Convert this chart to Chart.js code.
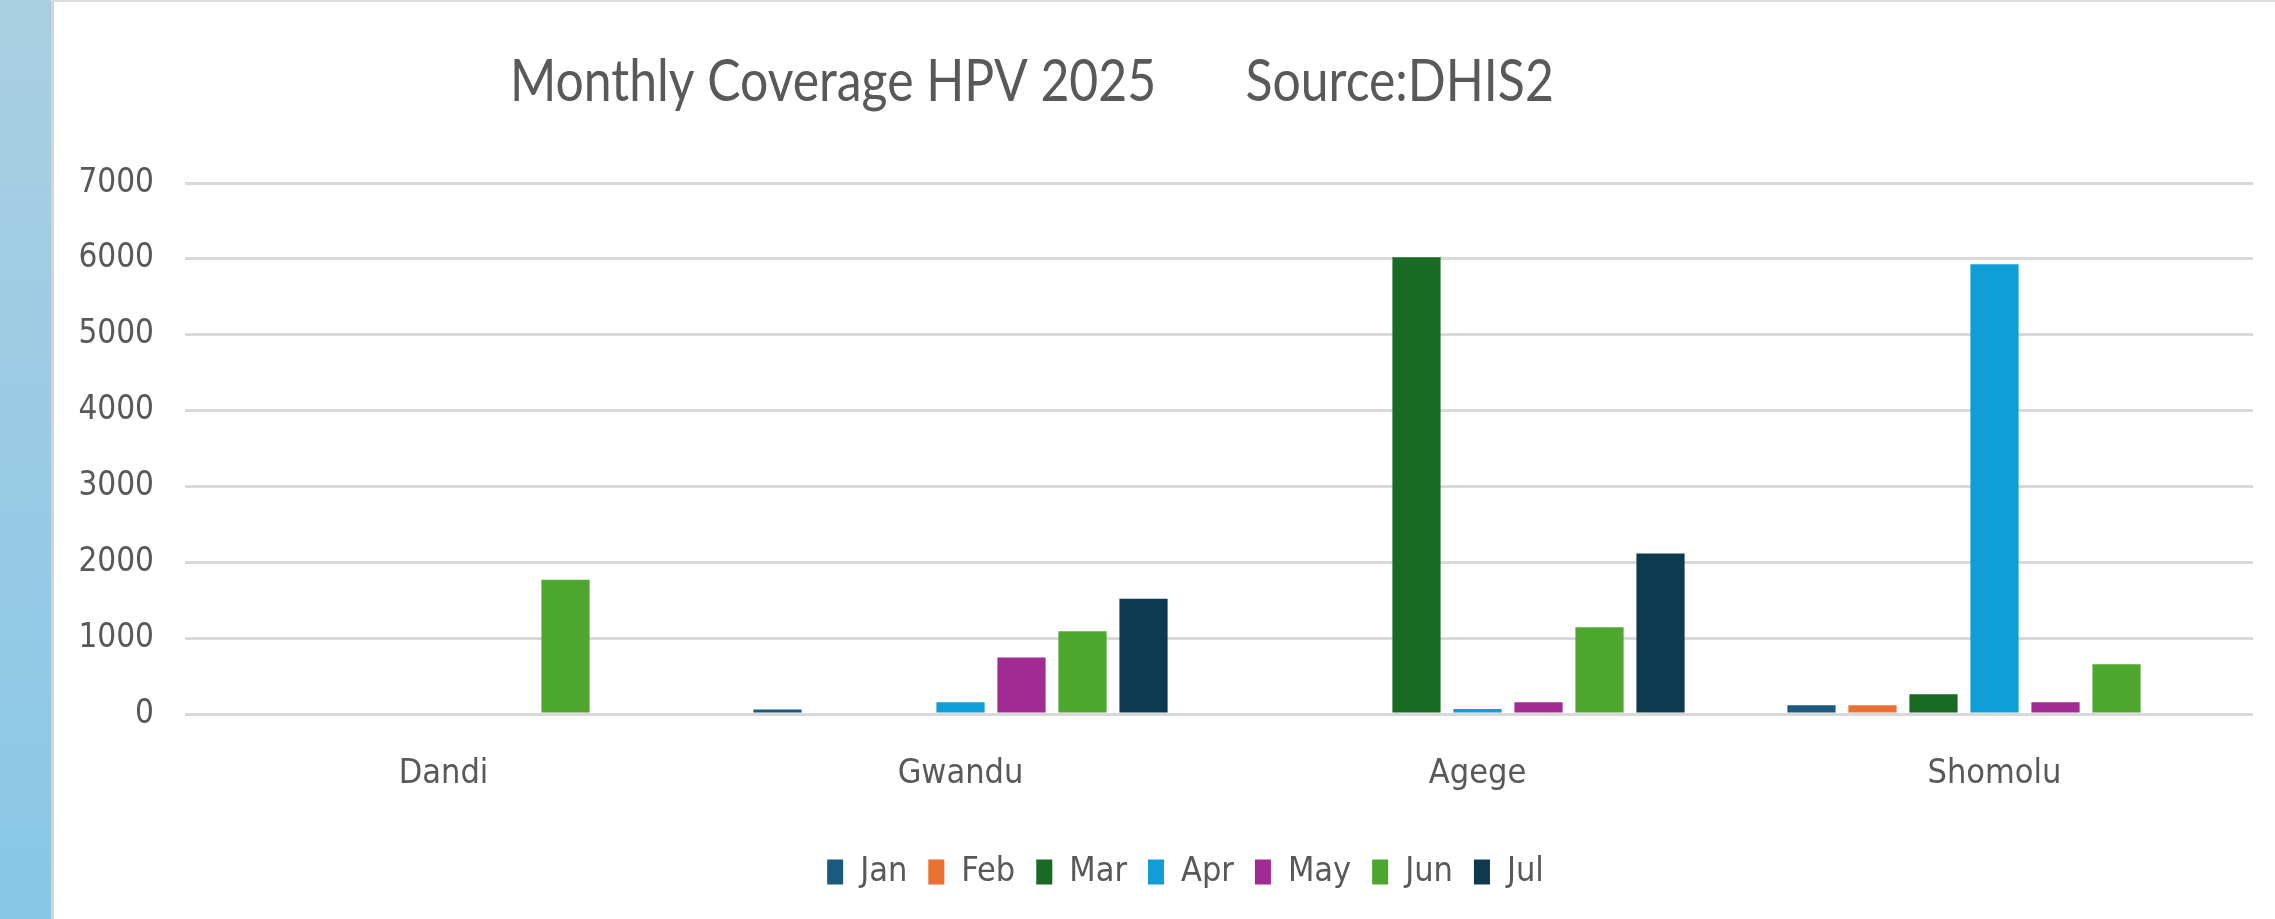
<!DOCTYPE html>
<html>
<head>
<meta charset="utf-8">
<script src="https://cdn.jsdelivr.net/npm/chart.js@4.4.1/dist/chart.umd.min.js"></script>
<style>
  html, body { margin: 0; padding: 0; background: #ffffff; }
  body { width: 2275px; height: 919px; position: relative; overflow: hidden; }
  #strip { position: absolute; left: 0; top: 0; width: 51px; height: 919px;
           background: linear-gradient(to bottom, #aacfe1, #88c7e7); }
  #edge { position: absolute; left: 51px; top: 0; width: 3px; height: 919px; background: #d4d4d4; }
  #topline { position: absolute; left: 51px; top: 0; width: 2224px; height: 2px; background: #dcdcdc; }
  #wrap { position: absolute; left: 54px; top: 0; width: 2221px; height: 919px; }
</style>
</head>
<body>
<div id="strip"></div>
<div id="edge"></div>
<div id="topline"></div>
<div id="wrap"><canvas id="c"></canvas></div>
<script>
const titleText = "Monthly Coverage HPV 2025       Source:DHIS2";
const categories = ["Dandi", "Gwandu", "Agege", "Shomolu"];
const seriesNames = ["Jan", "Feb", "Mar", "Apr", "May", "Jun", "Jul"];
const janValues = [0, 60, 0, 115];
const febValues = [0, 0, 0, 115];
const marValues = [0, 0, 6020, 260];
const aprValues = [0, 155, 65, 5930];
const mayValues = [0, 745, 155, 155];
const junValues = [1770, 1090, 1145, 655];
const julValues = [0, 1520, 2115, 0];
const yTicks = [0, 1000, 2000, 3000, 4000, 5000, 6000, 7000];
const seriesColors = ["#1b5a7e", "#e97132", "#196b24", "#0f9ed5", "#a02b93", "#4ea72e", "#0e3a50"];

const allValues = [janValues, febValues, marValues, aprValues, mayValues, junValues, julValues];
const datasets = seriesNames.map((name, i) => ({
  label: name,
  data: allValues[i],
  backgroundColor: seriesColors[i],
  borderWidth: 0,
  categoryPercentage: 0.826,
  barPercentage: 0.79
}));

const textColor = "#595959";
const narrow = "'DejaVu Sans Condensed', 'Liberation Sans Narrow', sans-serif";

const titlePlugin = {
  id: 'customTitle',
  afterLayout(chart) {
    // nudge the legend block to the right, as in the original
    if (chart.legend) { chart.legend.left += 32; chart.legend.right += 32; }
  },
  afterDraw(chart) {
    const ctx = chart.ctx;
    ctx.save();
    ctx.translate(456, 101);
    ctx.scale(0.86, 1);
    ctx.font = "58px Lato, 'Open Sans', sans-serif";
    ctx.fillStyle = textColor;
    ctx.textAlign = 'left';
    ctx.textBaseline = 'alphabetic';
    ctx.fillText(titleText, 0, 0);
    ctx.restore();
  }
};

new Chart(document.getElementById('c'), {
  type: 'bar',
  data: { labels: categories, datasets: datasets },
  plugins: [titlePlugin],
  options: {
    responsive: true,
    maintainAspectRatio: false,
    animation: false,
    layout: { padding: { top: 183, right: 22, bottom: 20, left: 0 } },
    plugins: {
      title: { display: false },
      tooltip: { enabled: false },
      legend: {
        position: 'bottom',
        labels: {
          color: textColor,
          font: { family: narrow, size: 34 },
          boxWidth: 16,
          boxHeight: 25,
          padding: 21
        }
      }
    },
    scales: {
      x: {
        grid: { display: false, drawTicks: false },
        border: { display: false },
        ticks: { color: textColor, font: { family: narrow, size: 34 }, padding: 40 },
        afterFit: s => { s.height = 120; }
      },
      y: {
        min: 0,
        max: 7000,
        afterBuildTicks: s => { s.ticks = yTicks.map(v => ({ value: v })); },
        grid: { color: "#d9d9d9", lineWidth: 3, drawTicks: false },
        border: { display: false },
        ticks: {
          color: textColor,
          font: { family: narrow, size: 33 },
          padding: 31,
          callback: v => String(v)
        },
        afterFit: s => { s.width = 131; }
      }
    }
  }
});
</script>
</body>
</html>
